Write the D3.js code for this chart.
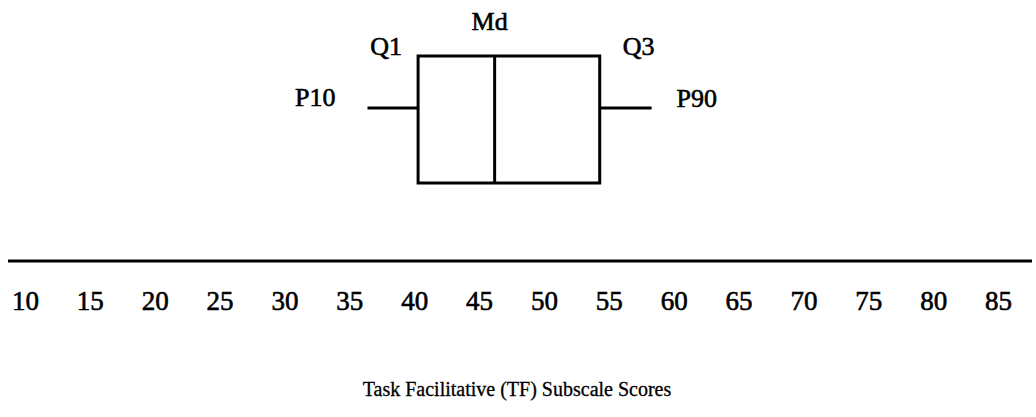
<!DOCTYPE html>
<html>
<head>
<meta charset="utf-8">
<script src="https://cdn.jsdelivr.net/npm/d3@7"></script>
<style>
  html, body { margin: 0; padding: 0; background: #fff; }
  svg { display: block; }
  text { font-family: "Liberation Serif", "Times New Roman", "DejaVu Serif", serif; fill: #000; }
  .lbl { font-size: 26px; stroke: #000; stroke-width: 0.6px; }
  .tick text { font-size: 27px; stroke: #000; stroke-width: 0.6px; }
  .title { font-size: 20px; stroke: #000; stroke-width: 0.3px; }
</style>
</head>
<body>
<div id="chart"></div>
<script>
// tick labels on the score axis
var tickValues = [10, 15, 20, 25, 30, 35, 40, 45, 50, 55, 60, 65, 70, 75, 80, 85];

// five number summary
var statNames = ["P10", "Q1", "Md", "Q3", "P90"];
var statValues = [36.4, 40.3, 46.2, 54.3, 58.3];

var axisTitle = "Task Facilitative (TF) Subscale Scores";

var width = 1036, height = 417;

var svg = d3.select("#chart").append("svg")
  .attr("width", width)
  .attr("height", height);

var x = d3.scaleLinear()
  .domain([10, 85])
  .range([25, 998]);

var stat = {};
statNames.forEach(function (n, i) { stat[n] = statValues[i]; });

var boxTop = 56, boxBottom = 183, whiskerY = 108;
var axisY = 261;

// whiskers
svg.append("g").selectAll("line.whisker")
  .data([[stat.P10, stat.Q1], [stat.Q3, stat.P90]])
  .enter().append("line")
  .attr("class", "whisker")
  .attr("x1", function (d) { return x(d[0]); })
  .attr("x2", function (d) { return x(d[1]); })
  .attr("y1", whiskerY).attr("y2", whiskerY)
  .attr("stroke", "#000").attr("stroke-width", 3);

// box
svg.append("rect")
  .attr("x", x(stat.Q1))
  .attr("y", boxTop)
  .attr("width", x(stat.Q3) - x(stat.Q1))
  .attr("height", boxBottom - boxTop)
  .attr("fill", "none")
  .attr("stroke", "#000")
  .attr("stroke-width", 3);

// median
svg.append("line")
  .attr("x1", x(stat.Md)).attr("x2", x(stat.Md))
  .attr("y1", boxTop).attr("y2", boxBottom)
  .attr("stroke", "#000").attr("stroke-width", 3);

// labels for the summary points
var labelPos = {
  P10: { dx: -32, y: 106, anchor: "end" },
  Q1:  { dx: -16, y: 55, anchor: "end" },
  Md:  { dx: -5,  y: 30, anchor: "middle" },
  Q3:  { dx: 23,  y: 55, anchor: "start" },
  P90: { dx: 25,  y: 107, anchor: "start" }
};

svg.append("g").selectAll("text")
  .data(statNames)
  .enter().append("text")
  .attr("class", "lbl")
  .attr("x", function (n) { return x(stat[n]) + labelPos[n].dx; })
  .attr("y", function (n) { return labelPos[n].y; })
  .attr("text-anchor", function (n) { return labelPos[n].anchor; })
  .text(function (n) { return n; });

// axis line runs past the first and last tick
svg.append("line")
  .attr("x1", 8).attr("x2", width - 4)
  .attr("y1", axisY).attr("y2", axisY)
  .attr("stroke", "#000").attr("stroke-width", 3);

var axis = d3.axisBottom(x)
  .tickValues(tickValues)
  .tickSize(0)
  .tickPadding(0)
  .tickFormat(d3.format("d"));

var gAxis = svg.append("g")
  .attr("transform", "translate(0," + axisY + ")")
  .call(axis);
gAxis.attr("font-family", null).attr("font-size", null);
gAxis.select(".domain").remove();
gAxis.selectAll(".tick text")
  .attr("dy", null)
  .attr("y", 49);

svg.append("text")
  .attr("class", "title")
  .attr("x", 517)
  .attr("y", 396)
  .attr("text-anchor", "middle")
  .text(axisTitle);
</script>
</body>
</html>
